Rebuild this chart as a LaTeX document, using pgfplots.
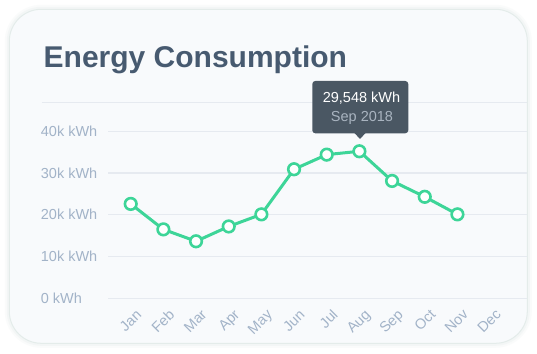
\documentclass[border=0pt]{standalone}
\usepackage{pgfplots}
\pgfplotsset{compat=1.18}
\usepackage{fontspec}
\setmainfont{Liberation Sans}
\definecolor{cardbg}{HTML}{F8FAFC}
\definecolor{cardedge}{HTML}{E4ECEA}
\definecolor{shadowc}{HTML}{CFE0DB}
\definecolor{gridc}{HTML}{E6EAF0}
\definecolor{tickc}{HTML}{A2B3C8}
\definecolor{titlec}{HTML}{475A70}
\definecolor{linec}{HTML}{3DD598}
\definecolor{tipbg}{HTML}{4A5763}
\definecolor{tipsub}{HTML}{A9B4C0}
\begin{document}
\begin{tikzpicture}[x=1pt,y=1pt]
\fill[white] (0,0) rectangle (537,353);
\draw[line width=9pt, shadowc, opacity=0.10, rounded corners=32pt] (9.3,9.7) rectangle (527.3,343.7);
\draw[line width=5pt, shadowc, opacity=0.15, rounded corners=32pt] (9.3,9.7) rectangle (527.3,343.7);
\draw[line width=1pt, fill=cardbg, draw=cardedge, rounded corners=32pt] (9.3,9.7) rectangle (527.3,343.7);
\node[anchor=base west, inner sep=0pt, text=titlec, font=\fontsize{30}{36}\selectfont\bfseries] at (43.5,285.7) {Energy Consumption};
\draw[gridc, line width=1.2pt] (41.7,250.3) -- (527,250.3);
\begin{axis}[
  at={(108pt,54.7pt)}, anchor=south west, scale only axis,
  width=419pt, height=196.3pt,
  xmin=-0.695, xmax=12.13, ymin=0, ymax=47000,
  axis line style={draw=none},
  scaled y ticks=false,
  ytick={0,10000,20000,30000,40000},
  yticklabels={0 kWh,10k kWh,20k kWh,30k kWh,40k kWh},
  xtick={0,...,11},
  xticklabels={Jan,Feb,Mar,Apr,May,Jun,Jul,Aug,Sep,Oct,Nov,Dec},
  ymajorgrids, grid style={gridc, line width=1.2pt},
  major tick length=0pt,
  tick label style={text=tickc, font=\fontsize{14.5}{16}\selectfont},
  yticklabel style={anchor=west, xshift=-67.3pt, inner xsep=0pt},
  xticklabel style={xshift=4.5pt, yshift=-10pt, rotate=45, anchor=north east, inner sep=0pt},
  clip=false,
]
\addplot[linec, line width=3pt, mark=*, mark size=5.8pt,
  mark options={fill=white, draw=linec, line width=2.6pt}]
  coordinates {(0,22600) (1,16500) (2,13650) (3,17200) (4,20100) (5,30900) (6,34400) (7,35200) (8,28100) (9,24300) (10,20100)};
\end{axis}
\fill[tipbg, rounded corners=3pt] (312.3,219.7) rectangle (408.3,272);
\fill[tipbg] (354,220.5) -- (366,220.5) -- (360,214) -- cycle;
\node[anchor=base, inner sep=0pt, text=white, font=\fontsize{14.5}{16}\selectfont] at (361.5,250.7) {29,548 kWh};
\node[anchor=base, inner sep=0pt, text=tipsub, font=\fontsize{14.5}{16}\selectfont] at (362,231.3) {Sep 2018};
\end{tikzpicture}
\end{document}
